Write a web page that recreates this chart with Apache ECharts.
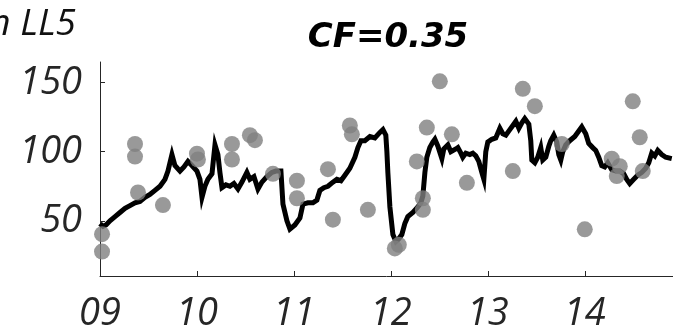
<!DOCTYPE html>
<html>
<head>
<meta charset="utf-8">
<script src="https://cdn.jsdelivr.net/npm/echarts@6/dist/echarts.min.js"></script>
<style>html,body{margin:0;padding:0;background:#fff;}#c{width:673px;height:333px;}</style>
</head>
<body>
<div id="c"></div>
<script>
// Black line: decimal year vs value
var lineX = [2009.000,2009.031,2009.062,2009.103,2009.155,2009.206,2009.258,2009.309,2009.361,2009.412,2009.464,2009.515,2009.567,2009.619,2009.670,2009.701,2009.742,2009.773,2009.825,2009.866,2009.907,2009.948,2010.000,2010.031,2010.052,2010.082,2010.113,2010.155,2010.186,2010.216,2010.237,2010.258,2010.299,2010.340,2010.381,2010.423,2010.464,2010.515,2010.546,2010.588,2010.629,2010.670,2010.722,2010.773,2010.814,2010.866,2010.887,2010.928,2010.959,2011.010,2011.062,2011.093,2011.144,2011.196,2011.237,2011.268,2011.309,2011.351,2011.402,2011.443,2011.485,2011.526,2011.577,2011.629,2011.660,2011.691,2011.732,2011.784,2011.835,2011.887,2011.918,2011.948,2011.959,2011.969,2011.990,2012.021,2012.052,2012.082,2012.113,2012.144,2012.175,2012.227,2012.278,2012.309,2012.330,2012.351,2012.371,2012.402,2012.433,2012.454,2012.485,2012.505,2012.526,2012.546,2012.588,2012.619,2012.639,2012.670,2012.691,2012.722,2012.742,2012.773,2012.814,2012.845,2012.876,2012.907,2012.938,2012.959,2012.979,2013.000,2013.041,2013.082,2013.124,2013.155,2013.186,2013.227,2013.258,2013.289,2013.320,2013.351,2013.381,2013.423,2013.443,2013.454,2013.485,2013.515,2013.546,2013.567,2013.598,2013.629,2013.649,2013.680,2013.711,2013.732,2013.753,2013.773,2013.804,2013.845,2013.897,2013.938,2013.969,2014.010,2014.041,2014.082,2014.113,2014.144,2014.175,2014.206,2014.237,2014.278,2014.320,2014.361,2014.402,2014.433,2014.464,2014.505,2014.546,2014.588,2014.629,2014.660,2014.691,2014.722,2014.753,2014.794,2014.835,2014.897];
var lineY = [48,46,47,50,53,56,59,61,63,64,67,69,72,75,80,86,98,90,86,89,93,90,86,80,67,75,80,84,105,98,85,74,76,75,77,73,78,85,80,82,73,78,82,85,86,86,62,50,44,47,52,62,63,63,65,72,74,75,78,80,79,83,88,96,103,108,108,111,110,114,116,112,100,85,60,40,35,37,40,48,53,56,60,63,68,85,96,103,107,109,104,103,95,102,105,100,99,102,103,99,96,99,98,99,97,93,85,80,100,107,109,110,117,113,112,116,119,122,117,121,124,120,108,94,92,96,103,94,96,104,108,112,107,98,94,100,105,108,111,115,118,113,106,103,101,96,90,89,92,87,86,86,84,80,77,80,83,85,88,92,99,97,101,98,96,95];
// Grey dots
var dotX = [2009.021,2009.021,2009.361,2009.361,2009.392,2009.649,2010.000,2010.010,2010.361,2010.361,2010.546,2010.598,2010.784,2011.031,2011.031,2011.351,2011.402,2011.577,2011.598,2011.763,2012.041,2012.082,2012.268,2012.330,2012.330,2012.371,2012.505,2012.629,2012.784,2013.258,2013.361,2013.485,2013.763,2014.000,2014.278,2014.330,2014.361,2014.495,2014.567,2014.598];
var dotY = [40.3,27.7,105.6,96.5,70.5,61.4,98.6,94.4,105.6,94.4,112,108.4,84,79,66.3,87.4,50.8,119,112.6,57.9,30,32.6,93,66.3,57.9,117.5,151,112.6,77.5,86,145.6,133,105.6,43.8,95,82.4,89.5,136.5,110.5,86];
var xTicks = [2009,2010,2011,2012,2013,2014];
var yTicks = [50,100,150];
var titleText = 'CF=0.35';
var cornerText = 'n LL5';

var chart = echarts.init(document.getElementById('c'), null, {renderer:'canvas'});
var FONT = 'Open Sans';
var option = {
  animation: false,
  backgroundColor: '#fff',
  grid: {left: 100, top: 62, right: 0, bottom: 51, containLabel: false},
  xAxis: {
    type: 'value', min: 2009, max: 2014.91,
    axisLine: {show: true, onZero: false, lineStyle: {color: '#262626', width: 1}},
    axisTick: {show: true, inside: true, length: 5, customValues: xTicks, lineStyle: {color: '#262626'}},
    axisLabel: {customValues: xTicks, margin: 19, fontFamily: FONT, fontStyle: 'italic', fontSize: 38, color: '#262626',
      formatter: function(v){ return String(Math.round(v)).slice(2); }},
    splitLine: {show: false}
  },
  yAxis: {
    type: 'value', min: 10, max: 165,
    axisLine: {show: true, onZero: false, lineStyle: {color: '#262626', width: 1}},
    axisTick: {show: true, inside: true, length: 5, customValues: yTicks, lineStyle: {color: '#262626'}},
    axisLabel: {customValues: yTicks, margin: 18, fontFamily: FONT, fontStyle: 'italic', fontSize: 38, color: '#262626'},
    splitLine: {show: false}
  },
  graphic: [
    {type: 'text', x: 388, y: 38, z: 10, style: {text: titleText, fontFamily: 'DejaVu Sans', fontStyle: 'italic', fontWeight: 'bold', fontSize: 34, fill: '#000', textAlign: 'center', textVerticalAlign: 'middle'}},
    {type: 'text', x: 76, y: 24, z: 10, style: {text: cornerText, fontFamily: FONT, fontStyle: 'italic', fontSize: 37, fill: '#111', textAlign: 'right', textVerticalAlign: 'middle'}}
  ],
  series: [
    {type: 'line', data: lineX.map(function(x,i){return [x, lineY[i]];}), showSymbol: false, symbol: 'none',
      lineStyle: {color: '#000', width: 5, join: 'miter'}, z: 2},
    {type: 'scatter', data: dotX.map(function(x,i){return [x, dotY[i]];}), symbolSize: 16,
      itemStyle: {color: '#808080'}, z: 3}
  ]
};
chart.setOption(option);
</script>
</body>
</html>
